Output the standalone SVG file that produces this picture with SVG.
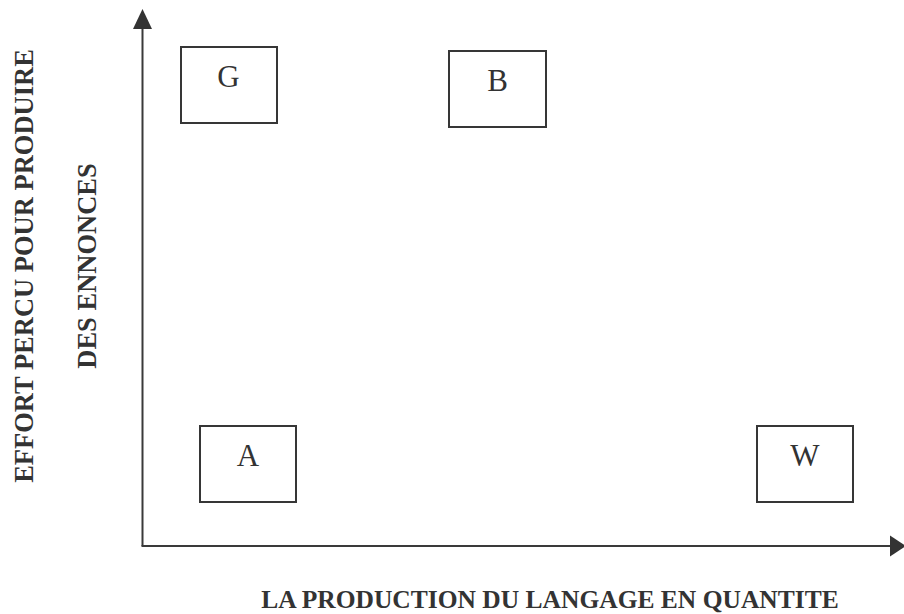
<svg xmlns="http://www.w3.org/2000/svg" width="904" height="614" viewBox="0 0 904 614">
  <style>
    .box { fill: #ffffff; stroke: #363636; stroke-width: 2; }
    .letter { font-family: "Liberation Serif", "Times New Roman", serif; font-size: 31px; fill: #333333; text-anchor: middle; }
    .axis { stroke: #3a3a3a; stroke-width: 2; fill: none; }
    .head { fill: #333333; }
    .label { font-family: "Liberation Serif", "Times New Roman", serif; font-size: 26.5px; font-weight: bold; fill: #333333; text-anchor: middle; }
  </style>
  <rect width="904" height="614" fill="#ffffff"/>

  <!-- axes -->
  <g id="connectors">
    <line class="axis" x1="142.5" y1="546" x2="142.5" y2="27"/>
    <polygon class="head" points="142.5,9 133,29 152,29"/>
    <line class="axis" x1="141.5" y1="546" x2="892" y2="546"/>
    <polygon class="head" points="906,546 890,535.5 890,556.5"/>
  </g>

  <!-- quadrant boxes -->
  <g id="node-G">
    <rect class="box" x="181" y="47" width="96" height="76"/>
    <text class="letter" x="228.5" y="87">G</text>
  </g>
  <g id="node-B">
    <rect class="box" x="449" y="51" width="97" height="76"/>
    <text class="letter" x="497.5" y="91">B</text>
  </g>
  <g id="node-A">
    <rect class="box" x="200" y="426" width="96" height="76"/>
    <text class="letter" x="248" y="466">A</text>
  </g>
  <g id="node-W">
    <rect class="box" x="757" y="426" width="96" height="76"/>
    <text class="letter" x="805" y="466">W</text>
  </g>

  <!-- axis titles -->
  <g id="y-title">
    <text class="label" transform="translate(33,266) rotate(-90)">EFFORT PERCU POUR PRODUIRE</text>
    <text class="label" transform="translate(96,266) rotate(-90)">DES ENNONCES</text>
  </g>
  <g id="x-title">
    <text class="label" x="550" y="608" style="font-size:25.5px">LA PRODUCTION DU LANGAGE EN QUANTITE</text>
  </g>
</svg>
